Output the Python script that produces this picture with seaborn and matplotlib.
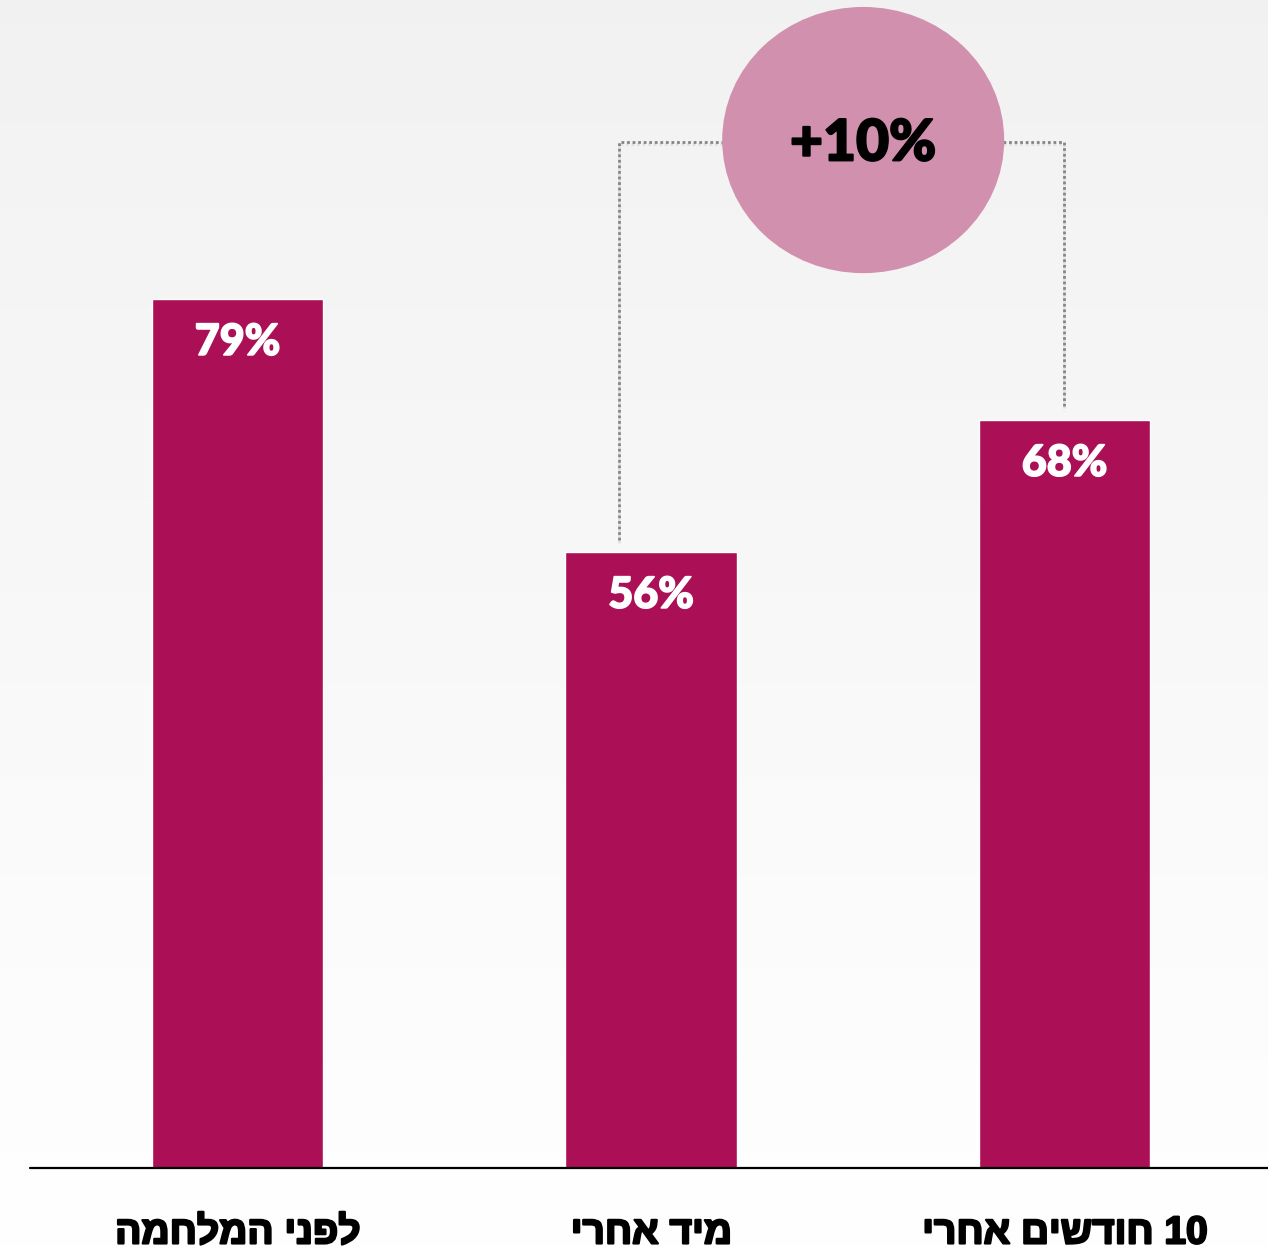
import numpy as np
import pandas as pd
import matplotlib
matplotlib.use("Agg")
import matplotlib.pyplot as plt
import matplotlib.patheffects as pe
from matplotlib.patches import Ellipse
import seaborn as sns

# Data
periods = ["לפני המלחמה", "מיד אחרי", "10 חודשים אחרי"]
values = [79, 56, 68]
value_labels = ["79%", "56%", "68%"]
change_label = "+10%"


def visual_rtl(s):
    """Reverse Hebrew text for left-to-right rendering, keeping digit runs intact."""
    out = []
    buf = ""
    for ch in s:
        if ch.isdigit():
            buf += ch
        else:
            if buf:
                out.append(buf)
                buf = ""
            out.append(ch)
    if buf:
        out.append(buf)
    return "".join(reversed(out))


df = pd.DataFrame({"period": periods, "value": values})

sns.set_theme(style="white")
plt.rcParams["font.family"] = ["Lato", "DejaVu Sans"]

W, H = 1268, 1251
fig = plt.figure(figsize=(W / 100, H / 100), dpi=100)

# soft vertical gradient background
bg = fig.add_axes([0, 0, 1, 1], zorder=-10)
grad = np.linspace(0.948, 1.0, 256).reshape(-1, 1)
bg.imshow(np.dstack([grad, grad, grad]), aspect="auto", extent=[0, 1, 0, 1],
          origin="upper")
bg.axis("off")

base_px = 1168
ax = fig.add_axes([30 / W, (H - base_px) / H, 1 - 30 / W, base_px / H])
ax.set_facecolor("none")

bar_color = "#ab1057"
sns.barplot(data=df, x="period", y="value", color=bar_color, width=0.414,
            saturation=1, ax=ax, zorder=2)

ax.set_xlim(-0.502, 2.492)
ax.set_ylim(0, base_px / 11.0)
for s in ax.spines.values():
    s.set_visible(False)
ax.set_xticks([])
ax.set_yticks([])
ax.set_xlabel("")
ax.set_ylabel("")

# baseline
ax.axhline(0, color="black", lw=1.6, zorder=3, clip_on=False)

# value labels inside bars
for i, (v, lab) in enumerate(zip(values, value_labels)):
    ax.text(i, v - 3.9, lab, ha="center", va="center", color="white",
            fontsize=31, fontweight="black", zorder=4,
            path_effects=[pe.withStroke(linewidth=1.2, foreground="white")])

# category labels
for i, p in enumerate(periods):
    ax.text(i, -5.95, visual_rtl(p), ha="center", va="center", color="black",
            fontsize=28, fontweight="bold", family=["Liberation Sans", "DejaVu Sans"],
            clip_on=False,
            path_effects=[pe.withStroke(linewidth=1.6, foreground="black")])

# change bracket between second and third bars
y_top = 93.3
x_left = 0.9226
x_right = 1.9988
dot_style = dict(color="#858585", lw=2.0, linestyle=(0, (1, 1)), zorder=1)
ax.plot([x_left, x_left, 1.175], [values[1] + 1.1, y_top, y_top], **dot_style,
        path_effects=[pe.SimpleLineShadow(offset=(0, -2), shadow_color="#cccccc", alpha=0.5),
                      pe.Normal()])
ax.plot([1.85, x_right, x_right], [y_top, y_top, values[2] + 1.1], **dot_style,
        path_effects=[pe.SimpleLineShadow(offset=(0, -2), shadow_color="#cccccc", alpha=0.5),
                      pe.Normal()])

ell = Ellipse((1.513, 93.45), width=0.682, height=24.2, facecolor="#d190ae",
              edgecolor="none", zorder=5)
ax.add_patch(ell)
ax.text(1.513, 93.1, change_label, ha="center", va="center", color="black",
        fontsize=41, fontweight="black", zorder=6,
        path_effects=[pe.withStroke(linewidth=1.5, foreground="black")])

fig.savefig("out.png", dpi=100)
